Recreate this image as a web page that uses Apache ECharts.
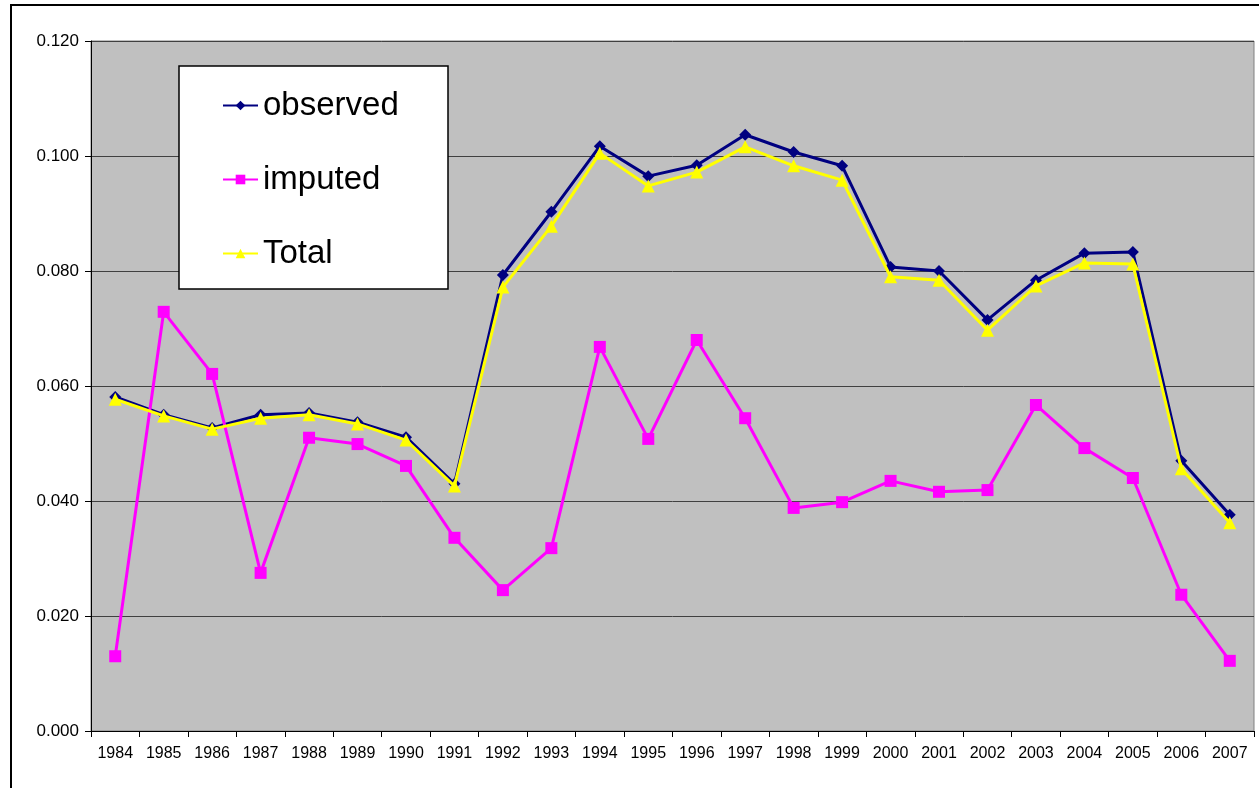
<!DOCTYPE html>
<html>
<head>
<meta charset="utf-8">
<script src="https://cdn.jsdelivr.net/npm/echarts@6/dist/echarts.min.js"></script>
<style>
html,body{margin:0;padding:0;background:#fff;}
#chart{width:1259px;height:788px;}
</style>
</head>
<body>
<div id="chart"></div>
<script>
var years = ['1984','1985','1986','1987','1988','1989','1990','1991','1992','1993','1994','1995','1996','1997','1998','1999','2000','2001','2002','2003','2004','2005','2006','2007'];
var observed = [0.0581,0.0550,0.0527,0.0550,0.0553,0.0537,0.0511,0.0430,0.0793,0.0903,0.1017,0.0965,0.0984,0.1037,0.1007,0.0983,0.0807,0.0800,0.0715,0.0784,0.0831,0.0833,0.0470,0.0376];
var imputed = [0.0130,0.0729,0.0621,0.0275,0.0510,0.0499,0.0461,0.0336,0.0245,0.0318,0.0668,0.0508,0.0680,0.0544,0.0388,0.0398,0.0435,0.0416,0.0419,0.0567,0.0492,0.0440,0.0237,0.0122];
var total = [0.0577,0.0548,0.0525,0.0544,0.0550,0.0534,0.0506,0.0426,0.0772,0.0878,0.1005,0.0948,0.0972,0.1016,0.0983,0.0958,0.0790,0.0784,0.0697,0.0774,0.0814,0.0812,0.0456,0.0362];
var seriesNames = ['observed','imputed','Total'];

var font = '"Liberation Sans", Arial, sans-serif';
var chart = echarts.init(document.getElementById('chart'), null, {renderer:'canvas'});
chart.setOption({
  animation:false,
  backgroundColor:'#ffffff',
  textStyle:{fontFamily:font},
  graphic:[
    {type:'rect', shape:{x:11,y:5,width:1300,height:900}, style:{fill:'none',stroke:'#000',lineWidth:2}, z:-10, silent:true},
    {type:'rect', shape:{x:179,y:66,width:269,height:223}, style:{fill:'#ffffff',stroke:'#000',lineWidth:1.5}, z:10, silent:true}
  ],
  grid:{left:91,top:41,right:5,bottom:57,show:true,backgroundColor:'#C0C0C0',borderColor:'#808080',borderWidth:1},
  legend:{
    data:seriesNames,
    orient:'vertical',
    left:217, top:84,
    itemWidth:35, itemHeight:12, itemGap:41, itemTextGap:7,
    textStyle:{fontSize:33,lineHeight:33,color:'#000',fontFamily:font},
    z:20
  },
  xAxis:{
    type:'category', data:years, boundaryGap:true,
    axisLine:{lineStyle:{color:'#000',width:1}},
    axisTick:{show:true,length:6,inside:false,lineStyle:{color:'#000'}},
    axisLabel:{color:'#000',fontSize:16,margin:15,interval:0,fontFamily:font},
    splitLine:{show:false}
  },
  yAxis:{
    type:'value', min:0, max:0.12, interval:0.02,
    axisLine:{show:true,lineStyle:{color:'#000',width:1}},
    axisTick:{show:true,length:6,lineStyle:{color:'#000'}},
    axisLabel:{color:'#000',fontSize:17,margin:12,fontFamily:font,formatter:function(v){return v.toFixed(3);}},
    splitLine:{show:true,lineStyle:{color:'#404040',width:1}}
  },
  series:[
    {name:'observed',type:'line',data:observed,symbol:'diamond',symbolSize:12,
     lineStyle:{color:'#000080',width:3},itemStyle:{color:'#000080'},z:3},
    {name:'imputed',type:'line',data:imputed,symbol:'rect',symbolSize:12,
     lineStyle:{color:'#FF00FF',width:3},itemStyle:{color:'#FF00FF'},z:4},
    {name:'Total',type:'line',data:total,symbol:'triangle',symbolSize:13,
     lineStyle:{color:'#FFFF00',width:3},itemStyle:{color:'#FFFF00'},z:5}
  ]
});
</script>
</body>
</html>
